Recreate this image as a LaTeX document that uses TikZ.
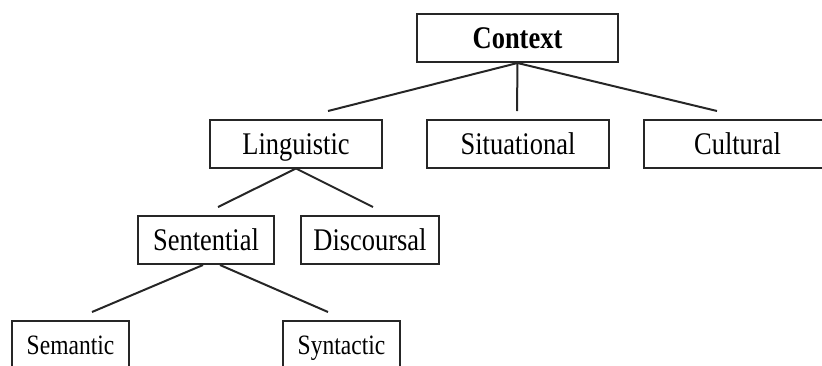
\documentclass[tikz,border=0pt]{standalone}
\usepackage{fontspec}
\setmainfont[FakeStretch=0.84]{Liberation Serif}

\begin{document}
\begin{tikzpicture}[x=1pt,y=-1pt]
	\tikzstyle{box}=[draw=black!85, line width=2pt, minimum height=48pt, inner sep=0pt, text height=21pt, text depth=0pt, font=\fontsize{31.5}{36}\selectfont]
	\tikzstyle{small box}=[box, text height=18.5pt, font=\fontsize{28}{32}\selectfont]
	\tikzstyle{branch}=[draw=black!85, line width=2pt]
	\useasboundingbox (0,0) rectangle (822,365);
	\clip (0,0) rectangle (822,365);
	% boxes
	\node[box, minimum width=201pt, font=\fontsize{31.5}{36}\selectfont\bfseries] (context) at (517.5,38) {Context};
	\node[box, minimum width=172pt] (linguistic) at (296,143.5) {Linguistic};
	\node[box, minimum width=182pt] (situational) at (518,143.5) {Situational};
	\node[box, minimum width=187pt] (cultural) at (737.5,143.5) {Cultural};
	\node[box, minimum width=136pt] (sentential) at (206,240) {Sentential};
	\node[box, minimum width=138pt] (discoursal) at (370,240) {Discoursal};
	\node[small box, minimum width=117pt] (semantic) at (70.5,345) {Semantic};
	\node[small box, minimum width=117pt] (syntactic) at (341.5,345) {Syntactic};
	% free ends of the branches
	\coordinate (ling-end) at (328,111);
	\coordinate (sit-end) at (517,111);
	\coordinate (cult-end) at (717,111);
	\coordinate (sent-end) at (218,207);
	\coordinate (disc-end) at (373,207);
	\coordinate (sem-end) at (92,312);
	\coordinate (syn-end) at (328,312);
	% branches
	\draw[branch] (context.south) -- (ling-end);
	\draw[branch] (context.south) -- (sit-end);
	\draw[branch] (context.south) -- (cult-end);
	\draw[branch] (linguistic.south) -- (sent-end);
	\draw[branch] (linguistic.south) -- (disc-end);
	\draw[branch] ([xshift=-3pt]sentential.south) -- (sem-end);
	\draw[branch] ([xshift=14pt]sentential.south) -- (syn-end);
\end{tikzpicture}
\end{document}
